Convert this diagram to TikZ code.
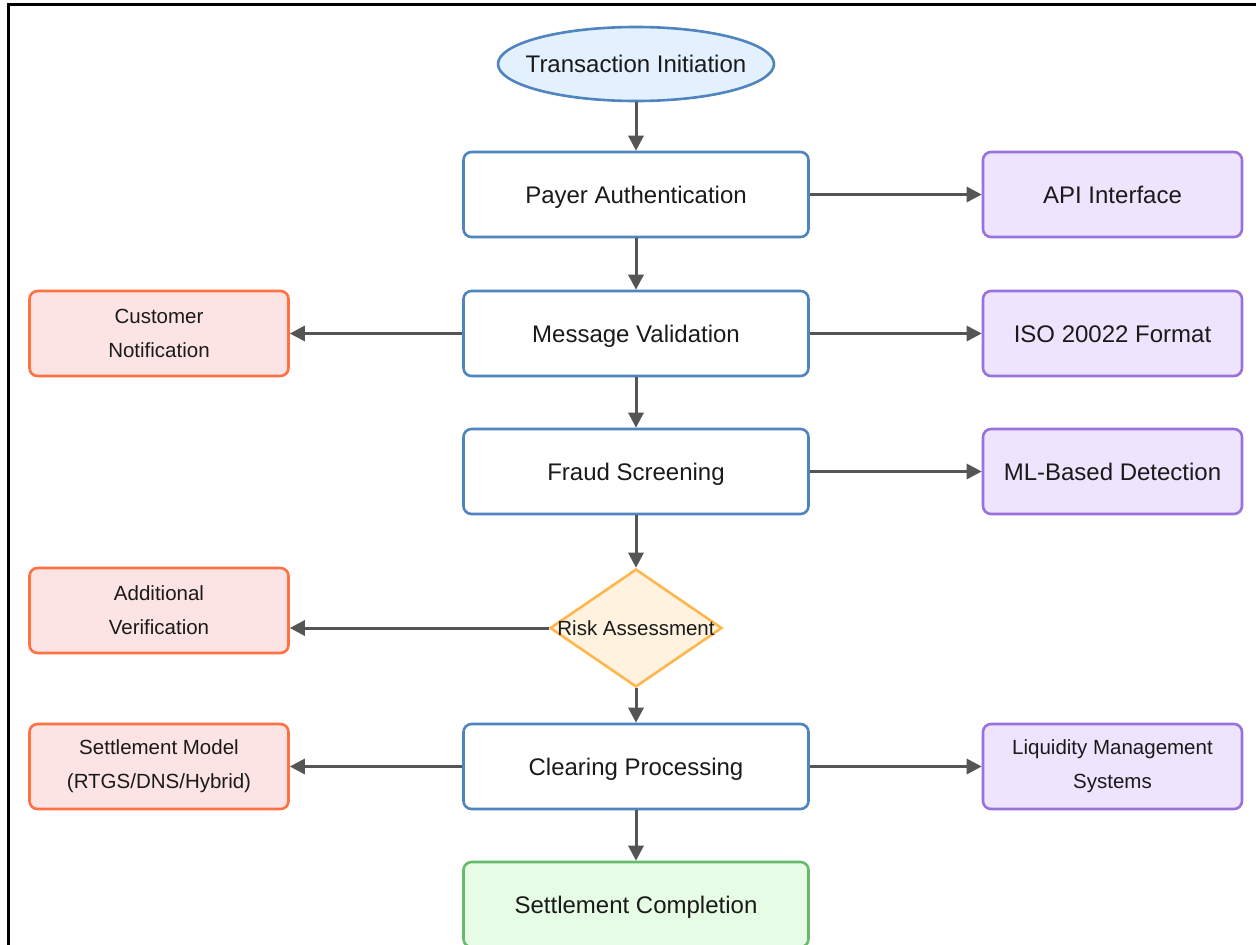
\documentclass[tikz,border=0pt]{standalone}
\usepackage{fontspec}
\setmainfont{Liberation Sans}
\usetikzlibrary{shapes.geometric,arrows.meta}
\definecolor{bstroke}{HTML}{4F84BE}
\definecolor{bfill}{HTML}{E3F0FE}
\definecolor{rstroke}{HTML}{FF7043}
\definecolor{rfill}{HTML}{FDE4E4}
\definecolor{pstroke}{HTML}{9A72DE}
\definecolor{pfill}{HTML}{EEE4FD}
\definecolor{ostroke}{HTML}{FFB74D}
\definecolor{ofill}{HTML}{FFF3E0}
\definecolor{gstroke}{HTML}{66BB6A}
\definecolor{gfill}{HTML}{E6FCE4}
\definecolor{arrowc}{HTML}{555555}
\definecolor{txt}{HTML}{1A1A1A}
\tikzset{
  base/.style={rounded corners=8pt, line width=2.6pt, inner sep=0pt, text=txt, align=center},
  bigtext/.style={font=\fontsize{24}{28}\selectfont, text height=17.2pt, text depth=0pt},
  smalltext/.style={font=\fontsize{20.5}{34}\selectfont},
  mainbox/.style={base, rectangle, draw=bstroke, fill=white, minimum width=345pt, minimum height=85pt, bigtext},
  endbox/.style={base, rectangle, draw=gstroke, fill=gfill, minimum width=345pt, minimum height=85pt, bigtext},
  sidebox/.style={base, rectangle, minimum width=259pt, minimum height=85pt},
  redbox/.style={sidebox, draw=rstroke, fill=rfill, smalltext},
  purplebox/.style={sidebox, draw=pstroke, fill=pfill, bigtext},
  purplesmall/.style={sidebox, draw=pstroke, fill=pfill, smalltext},
  startshape/.style={ellipse, draw=bstroke, fill=bfill, line width=2.6pt, inner sep=0pt, minimum width=276pt, minimum height=74pt, text=txt, bigtext},
  riskshape/.style={diamond, draw=ostroke, fill=ofill, line width=2.6pt, inner sep=0pt, minimum width=172pt, minimum height=118pt, text=txt, font=\fontsize{20.5}{24}\selectfont, text height=14.7pt, text depth=0pt},
  flow/.style={draw=arrowc, line width=3pt, -{Triangle[length=15pt,width=15pt]}},
}
\begin{document}
\begin{tikzpicture}[x=1pt,y=-1pt]
\useasboundingbox (0,0) rectangle (1256,945);
\fill[white] (0,0) rectangle (1256,945);
\coordinate (frameBL) at (8,950);
\coordinate (frameTL) at (8,4);
\coordinate (frameTR) at (1260,4);
\draw[line width=3pt, black] (frameBL) -- (frameTL) -- (frameTR);

\node[startshape] (init) at (636,64) {\makebox[0pt]{Transaction Initiation}};
\node[mainbox] (payer) at (636,194.5) {Payer Authentication};
\node[mainbox] (msg) at (636,333.5) {Message Validation};
\node[mainbox] (fraud) at (636,471.5) {Fraud Screening};
\node[riskshape] (risk) at (636,628) {\makebox[0pt]{Risk Assessment}};
\node[mainbox] (clear) at (636,766.5) {Clearing Processing};
\node[endbox] (settle) at (636,904.5) {Settlement Completion};

\node[purplebox] (api) at (1112.5,194.5) {API Interface};
\node[purplebox] (iso) at (1112.5,333.5) {ISO 20022 Format};
\node[purplebox] (ml) at (1112.5,471.5) {ML-Based Detection};
\node[purplesmall] (liq) at (1112.5,766.5) {Liquidity Management\\Systems};

\node[redbox] (cust) at (159,333.5) {Customer\\Notification};
\node[redbox] (addv) at (159,610.5) {Additional\\Verification};
\node[redbox] (model) at (159,766.5) {Settlement Model\\(RTGS/DNS/Hybrid)};

\draw[flow] (init.south) -- (payer.north);
\draw[flow] (payer.south) -- (msg.north);
\draw[flow] (msg.south) -- (fraud.north);
\draw[flow] (fraud.south) -- (risk.north);
\draw[flow] (risk.south) -- (clear.north);
\draw[flow] (clear.south) -- (settle.north);

\draw[flow] (payer.east) -- (api.west);
\draw[flow] (msg.east) -- (iso.west);
\draw[flow] (fraud.east) -- (ml.west);
\draw[flow] (clear.east) -- (liq.west);

\draw[flow] (msg.west) -- (cust.east);
\draw[flow] (risk.west) -- (risk.west -| addv.east);
\draw[flow] (clear.west) -- (model.east);
\end{tikzpicture}
\end{document}
